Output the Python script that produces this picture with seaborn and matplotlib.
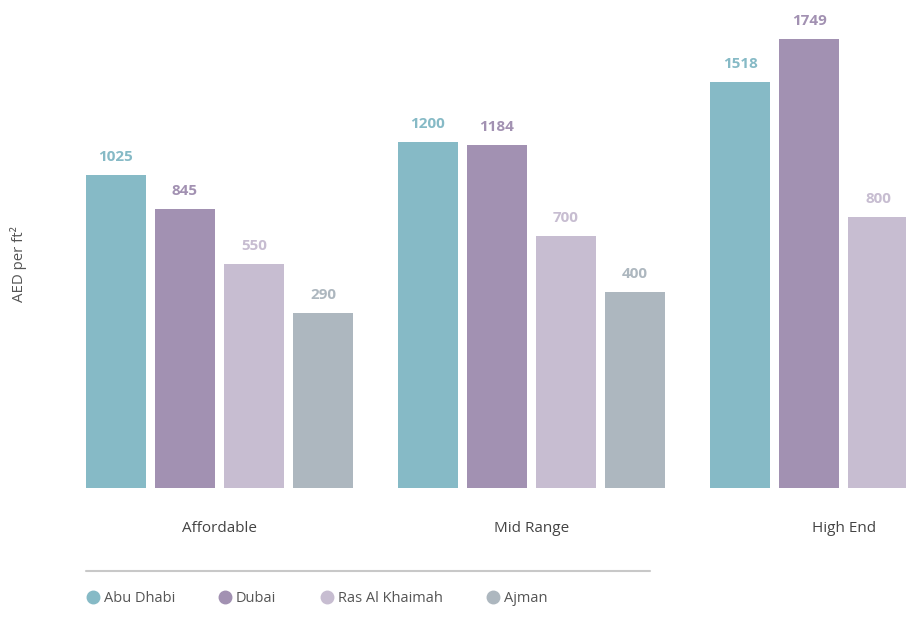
import pandas as pd
import matplotlib.pyplot as plt
import seaborn as sns
from matplotlib.lines import Line2D

# Chart data (AED per ft2)
segments = ['Affordable', 'Mid Range', 'High End']
areas = ['Abu Dhabi', 'Dubai', 'Ras Al Khaimah', 'Ajman']
abu_dhabi = [1025, 1200, 1518]
dubai = [845, 1184, 1749]
ras_al_khaimah = [550, 700, 800]
ajman = [290, 400, None]   # no High End value for Ajman

colors = ['#86bac6', '#a291b2', '#c7bdd1', '#adb7bf']

# the original chart starts its value axis well below zero
AXIS_BASE = -642
AXIS_TOP = 1957

rows = []
for area, vals in zip(areas, [abu_dhabi, dubai, ras_al_khaimah, ajman]):
    for seg, v in zip(segments, vals):
        if v is not None:
            rows.append({'Segment': seg, 'Area': area, 'Value': v})
df = pd.DataFrame(rows)
df['Height'] = df['Value'] - AXIS_BASE

sns.set_theme(style='white')
plt.rcParams['font.family'] = ['Open Sans', 'DejaVu Sans']

fig = plt.figure(figsize=(9.06, 6.21), dpi=100)
ax = fig.add_axes([0, 133 / 621, 1, 488 / 621])

sns.barplot(data=df, x='Segment', y='Height', hue='Area', order=segments,
            hue_order=areas, palette=colors, width=0.885, gap=0.13,
            saturation=1, legend=False, linewidth=0, edgecolor='none', ax=ax)

ax.set_ylim(0, AXIS_TOP - AXIS_BASE)
ax.set_xlim(-0.703, 2.2)

# value labels
for cont, col in zip(ax.containers, colors):
    labels = [str(int(round(b.get_height() + AXIS_BASE))) for b in cont]
    ax.bar_label(cont, labels=labels, padding=8, color=col,
                 fontsize=11, fontweight='bold')

ax.set_xlabel('')
ax.set_ylabel('')
ax.set_yticks([])
ax.tick_params(axis='x', length=0, pad=23.5, labelsize=11, labelcolor='#444444')
sns.despine(ax=ax, left=True, bottom=True)

fig.text(0.02, 1 - 264 / 621, 'AED per ft²', rotation=90, ha='center',
         va='center', fontsize=10.8, color='#555555')

# separator line above legend
fig.add_artist(Line2D([86 / 906, 650 / 906], [1 - 571 / 621, 1 - 571 / 621],
                      color='#c8c8c8', lw=1.5))

handles = [Line2D([], [], marker='o', linestyle='', markersize=9,
                  markerfacecolor=c, markeredgecolor=c) for c in colors]
fig.legend(handles, areas, loc='center left',
           bbox_to_anchor=(86 / 906, 1 - 598.5 / 621), ncol=4, frameon=False,
           fontsize=10.5, labelcolor='#555555', handlelength=0.9,
           handletextpad=0.3, columnspacing=3.0, borderpad=0,
           borderaxespad=0)

fig.savefig('out.png', dpi=100)
